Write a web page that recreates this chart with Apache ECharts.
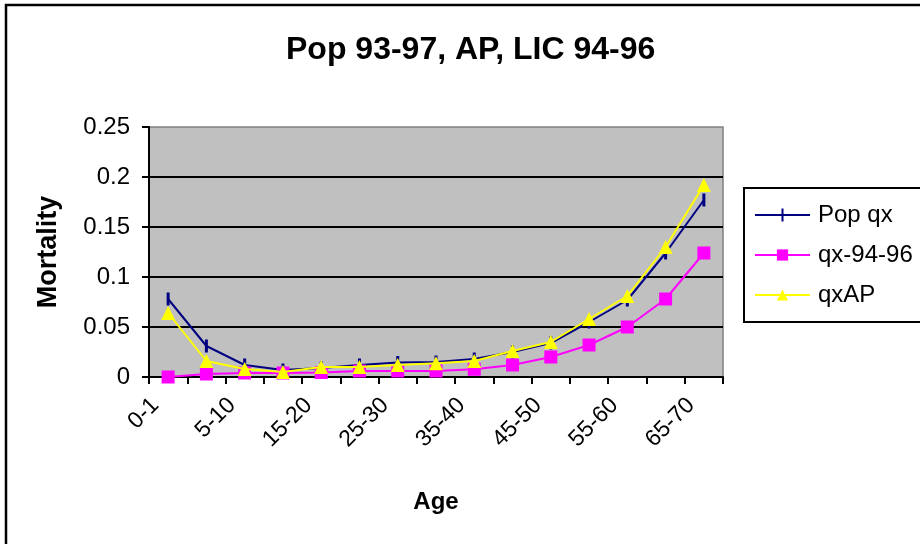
<!DOCTYPE html>
<html>
<head>
<meta charset="utf-8">
<script src="https://cdn.jsdelivr.net/npm/echarts@6/dist/echarts.min.js"></script>
<style>html,body{margin:0;padding:0;background:#fff;}#c{width:920px;height:544px;}</style>
</head>
<body>
<div id="c"></div>
<script>
var categories = ['0-1','1-5','5-10','10-15','15-20','20-25','25-30','30-35','35-40','40-45','45-50','50-55','55-60','60-65','65-70'];
var popQx   = [0.078, 0.031, 0.012, 0.007, 0.009, 0.012, 0.0145, 0.015, 0.018, 0.025, 0.034, 0.055, 0.077, 0.124, 0.177];
var qx9496  = [0.000, 0.003, 0.004, 0.004, 0.0045, 0.006, 0.006, 0.006, 0.0077, 0.012, 0.020, 0.032, 0.050, 0.078, 0.124];
var qxAP    = [0.064, 0.016, 0.008, 0.005, 0.010, 0.010, 0.012, 0.0137, 0.016, 0.026, 0.035, 0.058, 0.081, 0.130, 0.192];
var yTicks  = {min: 0, max: 0.25, interval: 0.05};

var FONT = 'Liberation Sans, Arial, sans-serif';
var chart = echarts.init(document.getElementById('c'));
chart.setOption({
  backgroundColor: '#ffffff',
  animation: false,
  title: {
    text: 'Pop 93-97, AP, LIC 94-96',
    left: 281, top: 29,
    textStyle: {fontFamily: FONT, fontSize: 32, fontWeight: 'bold', color: '#000'}
  },
  graphic: [
    {type: 'rect', shape: {x: 6, y: 5, width: 1000, height: 1000}, style: {fill: 'none', stroke: '#000', lineWidth: 2.5}, z: 0},
    {type: 'rect', shape: {x: 744, y: 188, width: 300, height: 134}, style: {fill: '#fff', stroke: '#000', lineWidth: 2}, z: 0}
  ],
  legend: {
    orient: 'vertical',
    left: 749, top: 198,
    itemWidth: 55, itemHeight: 14, itemGap: 16,
    textStyle: {fontFamily: FONT, fontSize: 24, color: '#000', lineHeight: 24, padding: [0, 0, 0, 3]},
    data: [
      {name: 'Pop qx', icon: 'path://M0,6 L55,6 L55,8 L0,8 Z M26.5,0.5 L28.5,0.5 L28.5,13.5 L26.5,13.5 Z'},
      'qx-94-96',
      'qxAP'
    ]
  },
  grid: {
    left: 149, right: 197, top: 127, bottom: 167,
    show: true, backgroundColor: '#C0C0C0', borderColor: '#808080', borderWidth: 1.5
  },
  xAxis: {
    type: 'category',
    data: categories,
    boundaryGap: true,
    name: 'Age', nameLocation: 'middle', nameGap: 113,
    nameTextStyle: {fontFamily: FONT, fontSize: 24, fontWeight: 'bold', color: '#000'},
    axisLine: {lineStyle: {color: '#000', width: 2}},
    axisTick: {show: true, interval: 0, length: 7, lineStyle: {color: '#000', width: 2}},
    axisLabel: {interval: 1, rotate: 45, margin: 12, fontFamily: FONT, fontSize: 23, color: '#000', padding: [0, 18, 0, 0]},
    splitLine: {show: false}
  },
  yAxis: {
    type: 'value',
    min: yTicks.min, max: yTicks.max, interval: yTicks.interval,
    name: 'Mortality', nameLocation: 'middle', nameGap: 87,
    nameTextStyle: {fontFamily: FONT, fontSize: 27, fontWeight: 'bold', color: '#000'},
    axisLine: {show: true, lineStyle: {color: '#000', width: 2}},
    axisTick: {show: true, length: 7, lineStyle: {color: '#000', width: 2}},
    axisLabel: {margin: 19, fontFamily: FONT, fontSize: 24, color: '#000'},
    splitLine: {show: true, showMaxLine: false, lineStyle: {color: '#000', width: 2}}
  },
  series: [
    {name: 'Pop qx', type: 'line', data: popQx, symbol: 'rect', symbolSize: [3, 13], showAllSymbol: true,
     lineStyle: {color: '#000080', width: 2}, itemStyle: {color: '#000080'}, z: 3},
    {name: 'qx-94-96', type: 'line', data: qx9496, symbol: 'rect', symbolSize: 13, showAllSymbol: true,
     lineStyle: {color: '#FF00FF', width: 2}, itemStyle: {color: '#FF00FF'}, z: 4},
    {name: 'qxAP', type: 'line', data: qxAP, symbol: 'triangle', symbolSize: 14, showAllSymbol: true,
     lineStyle: {color: '#FFFF00', width: 2}, itemStyle: {color: '#FFFF00'}, z: 5}
  ]
});
</script>
</body>
</html>
